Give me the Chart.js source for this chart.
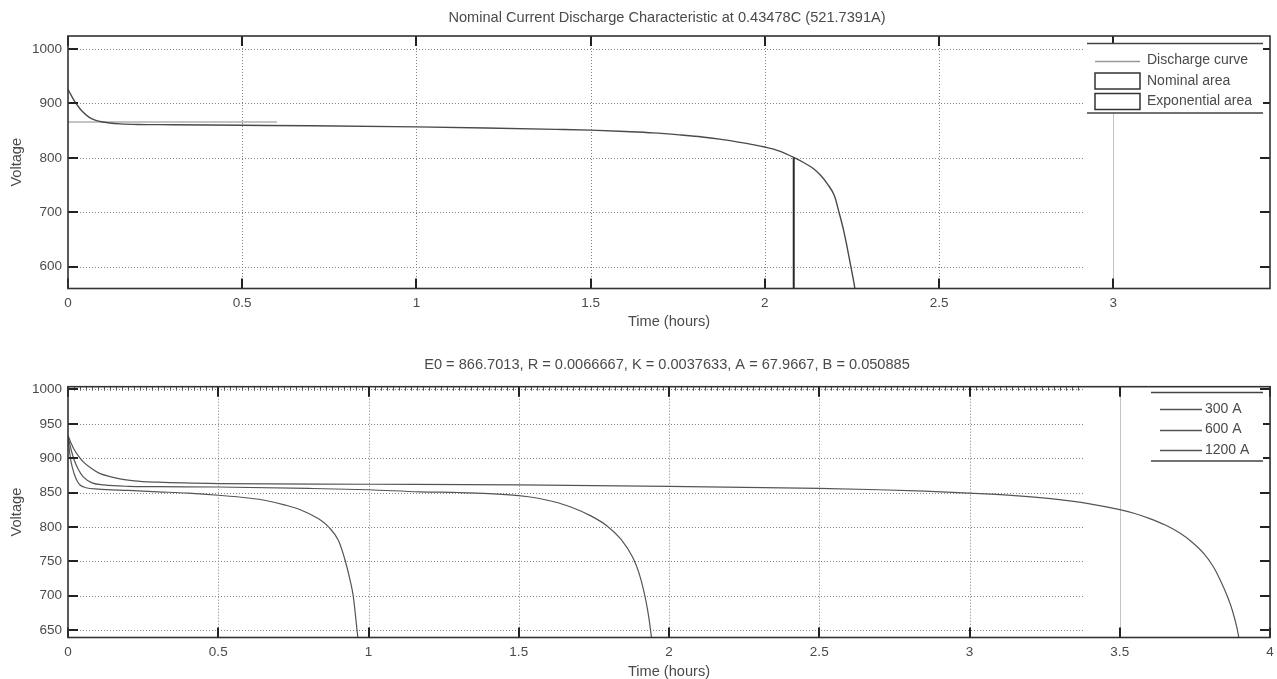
<!DOCTYPE html>
<html><head><meta charset="utf-8">
<script src="https://cdn.jsdelivr.net/npm/chart.js@4.4.1/dist/chart.umd.min.js"></script>
<style>
html,body{margin:0;padding:0;background:#fff;width:1277px;height:679px;overflow:hidden}
canvas{position:absolute;left:0}
#c1{top:0}
#c2{top:340px}
</style></head><body>
<canvas id="c1" width="1277" height="340"></canvas>
<canvas id="c2" width="1277" height="339"></canvas>
<script>
// ---------------- data ----------------
const topTitle = 'Nominal Current Discharge Characteristic at 0.43478C (521.7391A)';
const bottomTitle = 'E0 = 866.7013, R = 0.0066667, K = 0.0037633, A = 67.9667, B = 0.050885';
const xAxisLabel = 'Time (hours)';
const yAxisLabel = 'Voltage';

const topSeriesNames = ['Discharge curve', 'Nominal area', 'Exponential area'];
const dischargeTime = [0, 0.01, 0.02, 0.03, 0.04, 0.06, 0.08, 0.1, 0.12, 0.15, 0.2, 0.3, 0.5, 0.7, 1.0, 1.2, 1.4, 1.5, 1.6, 1.68, 1.76, 1.82, 1.87, 1.92, 1.97, 2.0, 2.04, 2.083, 2.11, 2.14, 2.16, 2.18, 2.2, 2.213, 2.225, 2.235, 2.247, 2.256, 2.262];
const dischargeVoltage = [926, 914, 903, 894, 886, 875, 869, 866, 864, 862.5, 861.5, 861, 860, 859, 857, 855, 852.5, 851, 848.5, 846, 842, 838.5, 834.5, 829.5, 824, 820, 813, 801, 792, 780, 768, 752, 730, 700, 670, 640, 600, 570, 545];
const nominalTime = [2.083, 2.083];
const nominalVoltage = [801, 550];
const exponentialTime = [0, 0.6];
const exponentialVoltage = [866, 866];

const currentNames = ['300 A', '600 A', '1200 A'];
const time300 = [0, 0.01, 0.02, 0.035, 0.05, 0.075, 0.1, 0.15, 0.22, 0.3, 0.5, 1.0, 1.5, 2.0, 2.5, 2.7, 2.85, 3.0, 3.15, 3.27, 3.4, 3.5, 3.55, 3.6, 3.65, 3.7, 3.74, 3.78, 3.81, 3.835, 3.857, 3.875, 3.89, 3.9];
const volt300 = [933, 922, 913, 903, 895, 886, 879, 872, 867, 865, 863, 862, 861, 859, 856, 854, 852, 849, 845.5, 841, 833.5, 825, 819.5, 812, 803, 791, 778, 761, 743, 722, 700, 678, 653, 630];
const time600 = [0, 0.01, 0.02, 0.035, 0.05, 0.08, 0.12, 0.2, 0.3, 0.5, 0.8, 1.0, 1.17, 1.3, 1.4, 1.5, 1.56, 1.617, 1.673, 1.74, 1.795, 1.84, 1.88, 1.9, 1.917, 1.93, 1.94, 1.945];
const volt600 = [932, 913, 898, 883, 873, 864, 861, 859, 858.5, 858, 856, 854, 851, 850, 848.5, 845.5, 842, 836.5, 829, 816, 801, 782, 755, 733, 705, 676, 645, 625];
const time1200 = [0, 0.005, 0.01, 0.02, 0.03, 0.04, 0.06, 0.1, 0.2, 0.3, 0.4, 0.5, 0.6, 0.662, 0.72, 0.773, 0.829, 0.867, 0.9, 0.923, 0.94, 0.949, 0.957, 0.963, 0.97];
const volt1200 = [930, 910, 895, 878, 867, 861, 857, 855, 853, 851, 849, 846, 842, 838, 832, 825, 813, 800, 780, 750, 720, 700, 670, 645, 620];

const topXTicks = [0, 0.5, 1, 1.5, 2, 2.5, 3];
const topYTicks = [600, 700, 800, 900, 1000];
const bottomXTicks = [0, 0.5, 1, 1.5, 2, 2.5, 3, 3.5, 4];
const bottomYTicks = [650, 700, 750, 800, 850, 900, 950, 1000];
const topXRange = [0, 3.45];
const topYRange = [560, 1024];
const bottomXRange = [0, 4];
const bottomYRange = [639, 1004];

// ---------------- helpers ----------------
const FONT = '"Liberation Sans", Arial, sans-serif';
const TEXT = '#4a4a4a';
const pts = (xs, ys) => xs.map((x, i) => ({x: x, y: ys[i]}));

const matlab = {
  id: 'matlab',
  beforeDatasetsDraw(chart, args, o) {
    const {ctx, chartArea: a, scales: {x, y}} = chart;
    const gx = x.getPixelForValue(o.gridEnd);
    ctx.save();
    ctx.lineWidth = 1;
    ctx.strokeStyle = '#808080';
    ctx.setLineDash([1, 2]);
    y.ticks.forEach(t => {
      const py = Math.round(y.getPixelForValue(t.value)) + 0.5;
      ctx.beginPath(); ctx.moveTo(a.left, py); ctx.lineTo(gx, py); ctx.stroke();
    });
    x.ticks.forEach(t => {
      if (t.value === x.min) return;
      const px = Math.round(x.getPixelForValue(t.value)) + 0.5;
      if (t.value < o.gridEnd) {
        ctx.setLineDash([1, 2]); ctx.strokeStyle = '#808080';
      } else {
        ctx.setLineDash([]); ctx.strokeStyle = '#c4c4c4';
      }
      ctx.beginPath(); ctx.moveTo(px, a.top); ctx.lineTo(px, a.bottom); ctx.stroke();
    });
    ctx.restore();
  },
  afterDatasetsDraw(chart, args, o) {
    const {ctx, chartArea: a, scales: {x, y}} = chart;
    ctx.save();
    if (o.minorStep) {
      ctx.strokeStyle = '#555'; ctx.lineWidth = 1;
      for (let v = x.min; v < o.gridEnd; v += o.minorStep) {
        const px = Math.round(x.getPixelForValue(v)) + 0.5;
        ctx.beginPath(); ctx.moveTo(px, a.top); ctx.lineTo(px, a.top + 4); ctx.stroke();
      }
    }
    ctx.strokeStyle = '#222'; ctx.lineWidth = 2;
    const L = 10;
    x.ticks.forEach(t => {
      const px = Math.round(x.getPixelForValue(t.value));
      ctx.beginPath();
      ctx.moveTo(px, a.top); ctx.lineTo(px, a.top + L);
      ctx.moveTo(px, a.bottom); ctx.lineTo(px, a.bottom - L);
      ctx.stroke();
    });
    y.ticks.forEach(t => {
      const py = Math.round(y.getPixelForValue(t.value));
      ctx.beginPath();
      ctx.moveTo(a.left, py); ctx.lineTo(a.left + L, py);
      ctx.moveTo(a.right, py); ctx.lineTo(a.right - L, py);
      ctx.stroke();
    });
    ctx.strokeStyle = '#333'; ctx.lineWidth = 1.6;
    ctx.strokeRect(a.left, a.top, a.right - a.left, a.bottom - a.top);

    const lg = o.legend;
    ctx.fillStyle = '#fff';
    ctx.fillRect(lg.x1, lg.top, lg.x2 - lg.x1, lg.bottom - lg.top);
    ctx.strokeStyle = '#444'; ctx.lineWidth = 1.5;
    ctx.beginPath();
    ctx.moveTo(lg.x1, lg.top); ctx.lineTo(lg.x2, lg.top);
    ctx.moveTo(lg.x1, lg.bottom); ctx.lineTo(lg.x2, lg.bottom);
    ctx.stroke();
    ctx.font = '14px ' + FONT;
    ctx.textBaseline = 'middle'; ctx.textAlign = 'left';
    chart.data.datasets.forEach((ds, i) => {
      const cy = lg.rowTop + i * lg.rowStep;
      if (lg.kinds[i] === 'rect') {
        ctx.strokeStyle = '#333'; ctx.lineWidth = 1.5;
        ctx.strokeRect(lg.sx1, cy - 8, lg.sx2 - lg.sx1, 16);
      } else {
        ctx.strokeStyle = lg.sampleColor; ctx.lineWidth = 1.5;
        ctx.beginPath(); ctx.moveTo(lg.sx1, Math.round(cy) + 0.5); ctx.lineTo(lg.sx2, Math.round(cy) + 0.5); ctx.stroke();
      }
      ctx.fillStyle = TEXT;
      ctx.fillText(ds.label, lg.textX, cy);
    });
    ctx.restore();
  },
  afterDraw(chart, args, o) {
    const {ctx, chartArea: a} = chart;
    ctx.save();
    ctx.fillStyle = TEXT;
    ctx.font = '14.6px ' + FONT;
    ctx.textAlign = 'center'; ctx.textBaseline = 'middle';
    const cx = (a.left + a.right) / 2;
    ctx.fillText(o.title, o.titleX, o.titleY);
    ctx.fillText(o.xlabel, cx, o.xlabelY);
    ctx.translate(o.ylabelX, (a.top + a.bottom) / 2);
    ctx.rotate(-Math.PI / 2);
    ctx.fillText(o.ylabel, 0, 0);
    ctx.restore();
  }
};

function makeChart(id, datasets, xr, yr, xt, yt, areaTop, areaBottomFromEnd, pluginOpts) {
  const setTicks = arr => scale => { scale.ticks = arr.map(v => ({value: v})); };
  return new Chart(document.getElementById(id), {
    type: 'scatter',
    data: {datasets: datasets},
    plugins: [matlab],
    options: {
      responsive: false, animation: false,
      layout: {padding: {left: 0, right: 7, top: areaTop, bottom: 0}},
      elements: {point: {radius: 0}, line: {cubicInterpolationMode: 'monotone'}},
      plugins: {legend: {display: false}, tooltip: {enabled: false}, matlab: pluginOpts},
      scales: {
        x: {
          type: 'linear', min: xr[0], max: xr[1],
          afterBuildTicks: setTicks(xt),
          afterFit: s => { s.height = areaBottomFromEnd; s.paddingLeft = 0; s.paddingRight = 0; },
          grid: {display: false, drawTicks: false}, border: {display: false},
          ticks: {padding: 7, color: TEXT, font: {family: FONT, size: 13.5}, maxRotation: 0, autoSkip: false, callback: v => String(v)}
        },
        y: {
          type: 'linear', min: yr[0], max: yr[1],
          afterBuildTicks: setTicks(yt),
          afterFit: s => { s.width = 68; s.paddingTop = 0; s.paddingBottom = 0; },
          grid: {display: false, drawTicks: false}, border: {display: false},
          ticks: {padding: 6, color: TEXT, font: {family: FONT, size: 13.5}, autoSkip: false, callback: v => String(v)}
        }
      }
    }
  });
}

makeChart('c1', [
  {label: topSeriesNames[0], data: pts(dischargeTime, dischargeVoltage), showLine: true, borderColor: '#4a4a4a', borderWidth: 1.4},
  {label: topSeriesNames[1], data: pts(nominalTime, nominalVoltage), showLine: true, borderColor: '#2a2a2a', borderWidth: 2},
  {label: topSeriesNames[2], data: pts(exponentialTime, exponentialVoltage), showLine: true, borderColor: '#8a8a8a', borderWidth: 1.2}
], topXRange, topYRange, topXTicks, topYTicks, 36, 51.5, {
  gridEnd: 2.915, minorStep: 0,
  title: topTitle, titleX: 667, titleY: 18, xlabel: xAxisLabel, xlabelY: 322, ylabel: yAxisLabel, ylabelX: 17,
  legend: {x1: 1087, x2: 1263, top: 43.5, bottom: 113, rowTop: 60.5, rowStep: 20.5, sx1: 1095, sx2: 1140, textX: 1147, kinds: ['line', 'rect', 'rect'], sampleColor: '#999'}
});

makeChart('c2', [
  {label: currentNames[0], data: pts(time300, volt300), showLine: true, borderColor: '#555', borderWidth: 1.2},
  {label: currentNames[1], data: pts(time600, volt600), showLine: true, borderColor: '#555', borderWidth: 1.2},
  {label: currentNames[2], data: pts(time1200, volt1200), showLine: true, borderColor: '#555', borderWidth: 1.2}
], bottomXRange, bottomYRange, bottomXTicks, bottomYTicks, 46.7, 41.5, {
  gridEnd: 3.378, minorStep: 0.02,
  title: bottomTitle, titleX: 667, titleY: 25, xlabel: xAxisLabel, xlabelY: 331.5, ylabel: yAxisLabel, ylabelX: 17,
  legend: {x1: 1151, x2: 1263, top: 52.5, bottom: 121, rowTop: 69, rowStep: 20.5, sx1: 1160, sx2: 1202, textX: 1205, kinds: ['line', 'line', 'line'], sampleColor: '#555'}
});
</script>
</body></html>
